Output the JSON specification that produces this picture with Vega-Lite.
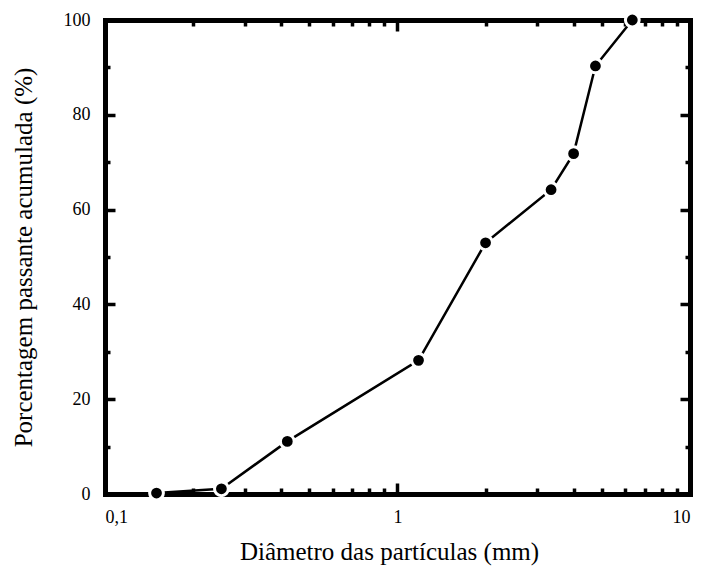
{
  "$schema": "https://vega.github.io/schema/vega-lite/v6.json",
  "autosize": {"type": "none"},
  "padding": {"left": 105, "top": 20, "right": 21, "bottom": 78},
  "width": 585,
  "height": 474,
  "background": "white",
  "view": {"stroke": null},
  "config": {
    "font": "Liberation Serif",
    "axis": {
      "domain": true,
      "domainColor": "black",
      "domainWidth": 5,
      "domainCap": "square",
      "grid": false,
      "tickColor": "black",
      "tickWidth": 3.5,
      "labelColor": "black",
      "labelFont": "Liberation Serif",
      "labelFontSize": 18,
      "titleFont": "Liberation Serif",
      "titleFontSize": 25,
      "titleFontWeight": "normal",
      "titleColor": "black"
    }
  },
  "data": {
    "values": [
      {"d": 0.15, "p": 0.2},
      {"d": 0.25, "p": 1.1},
      {"d": 0.42, "p": 11.1},
      {"d": 1.18, "p": 28.2},
      {"d": 2.0, "p": 53.0},
      {"d": 3.35, "p": 64.2},
      {"d": 4.0, "p": 71.8},
      {"d": 4.75, "p": 90.3},
      {"d": 6.35, "p": 100}
    ]
  },
  "resolve": {"axis": {"x": "independent", "y": "independent"}},
  "layer": [
    {
      "mark": {"type": "line", "color": "black", "strokeWidth": 2.5},
      "encoding": {
        "x": {
          "field": "d", "type": "quantitative",
          "scale": {"type": "log", "domain": [0.1, 10], "nice": false},
          "axis": {
            "orient": "bottom",
            "values": [0.1, 1, 10],
            "tickSize": -11,
            "labelPadding": 25,
            "labelExpr": "datum.value < 0.5 ? '0,1' : (datum.value < 5 ? '1' : '10')",
            "title": "Diâmetro das partículas (mm)",
            "titlePadding": 13,
            "titleX": 284
          }
        },
        "y": {
          "field": "p", "type": "quantitative",
          "scale": {"domain": [0, 100], "nice": false, "zero": true},
          "axis": {
            "orient": "left",
            "values": [0, 20, 40, 60, 80, 100],
            "tickSize": -10,
            "labelPadding": 25,
            "title": "Porcentagem passante acumulada (%)",
            "titlePadding": 27
          }
        }
      }
    },
    {
      "mark": {"type": "point", "filled": true, "color": "black", "opacity": 1, "size": 190, "stroke": "white", "strokeWidth": 3, "strokeOpacity": 1},
      "encoding": {
        "x": {
          "field": "d", "type": "quantitative",
          "axis": {
            "orient": "bottom",
            "values": [0.2, 0.3, 0.4, 0.5, 0.6, 0.7, 0.8, 0.9, 2, 3, 4, 5, 6, 7, 8, 9],
            "tickSize": -6,
            "labels": false,
            "title": null
          }
        },
        "y": {
          "field": "p", "type": "quantitative",
          "axis": {
            "orient": "left",
            "values": [10, 30, 50, 70, 90],
            "tickSize": -5,
            "labels": false,
            "title": null
          }
        }
      }
    },
    {
      "mark": {"type": "point", "opacity": 0},
      "encoding": {
        "x": {
          "field": "d", "type": "quantitative",
          "axis": {
            "orient": "top",
            "values": [0.1, 1, 10],
            "tickSize": -11,
            "labels": false,
            "title": null
          }
        },
        "y": {
          "field": "p", "type": "quantitative",
          "axis": {
            "orient": "right",
            "values": [0, 20, 40, 60, 80, 100],
            "tickSize": -10,
            "labels": false,
            "title": null
          }
        }
      }
    },
    {
      "mark": {"type": "point", "opacity": 0},
      "encoding": {
        "x": {
          "field": "d", "type": "quantitative",
          "axis": {
            "orient": "top",
            "values": [0.2, 0.3, 0.4, 0.5, 0.6, 0.7, 0.8, 0.9, 2, 3, 4, 5, 6, 7, 8, 9],
            "tickSize": -6,
            "labels": false,
            "title": null
          }
        },
        "y": {
          "field": "p", "type": "quantitative",
          "axis": {
            "orient": "right",
            "values": [10, 30, 50, 70, 90],
            "tickSize": -5,
            "labels": false,
            "title": null
          }
        }
      }
    }
  ]
}
